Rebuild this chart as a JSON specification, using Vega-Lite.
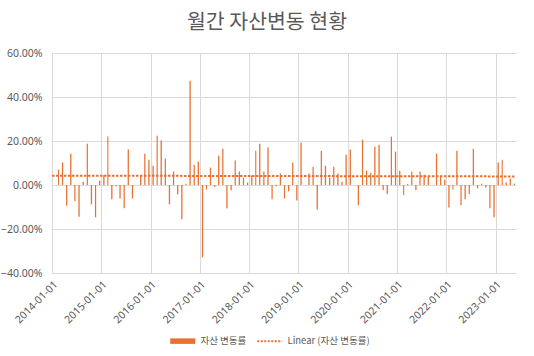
{
  "$schema": "https://vega.github.io/schema/vega-lite/v6.json",
  "autosize": {"type": "none"},
  "width": 464,
  "height": 220,
  "padding": {"left": 52, "top": 53, "right": 18, "bottom": 83},
  "background": "white",
  "title": {"text": "월간 자산변동 현황", "fontSize": 20.5, "font": "Noto Sans CJK KR", "fontWeight": "normal", "color": "#595959", "anchor": "middle", "frame": "group", "dx": -17, "offset": 15},
  "config": {
    "view": {"stroke": null},
    "axis": {"gridColor": "#d9d9d9", "domain": false, "ticks": false, "labelColor": "#595959", "labelFontSize": 10.5, "labelFont": "Noto Sans"}
  },
  "data": {
    "format": {"parse": {"date": "date"}},
    "values": [
      {"date": "2014-02-01", "rate": 0.070},
      {"date": "2014-03-01", "rate": 0.102},
      {"date": "2014-04-01", "rate": -0.094},
      {"date": "2014-05-01", "rate": 0.142},
      {"date": "2014-06-01", "rate": -0.074},
      {"date": "2014-07-01", "rate": -0.144},
      {"date": "2014-08-01", "rate": 0.015},
      {"date": "2014-09-01", "rate": 0.188},
      {"date": "2014-10-01", "rate": -0.088},
      {"date": "2014-11-01", "rate": -0.147},
      {"date": "2014-12-01", "rate": 0.020},
      {"date": "2015-01-01", "rate": 0.045},
      {"date": "2015-02-01", "rate": 0.220},
      {"date": "2015-03-01", "rate": -0.065},
      {"date": "2015-04-01", "rate": -0.006},
      {"date": "2015-05-01", "rate": -0.061},
      {"date": "2015-06-01", "rate": -0.106},
      {"date": "2015-07-01", "rate": 0.161},
      {"date": "2015-08-01", "rate": -0.061},
      {"date": "2015-10-01", "rate": 0.045},
      {"date": "2015-11-01", "rate": 0.142},
      {"date": "2015-12-01", "rate": 0.115},
      {"date": "2016-01-01", "rate": 0.088},
      {"date": "2016-02-01", "rate": 0.224},
      {"date": "2016-03-01", "rate": 0.202},
      {"date": "2016-04-01", "rate": 0.120},
      {"date": "2016-05-01", "rate": -0.088},
      {"date": "2016-06-01", "rate": 0.061},
      {"date": "2016-07-01", "rate": -0.042},
      {"date": "2016-08-01", "rate": -0.156},
      {"date": "2016-09-01", "rate": 0.006},
      {"date": "2016-10-01", "rate": 0.474},
      {"date": "2016-11-01", "rate": 0.092},
      {"date": "2016-12-01", "rate": 0.106},
      {"date": "2017-01-01", "rate": -0.329},
      {"date": "2017-02-01", "rate": -0.020},
      {"date": "2017-03-01", "rate": 0.079},
      {"date": "2017-04-01", "rate": -0.008},
      {"date": "2017-05-01", "rate": 0.133},
      {"date": "2017-06-01", "rate": 0.165},
      {"date": "2017-07-01", "rate": -0.106},
      {"date": "2017-08-01", "rate": -0.024},
      {"date": "2017-09-01", "rate": 0.111},
      {"date": "2017-10-01", "rate": 0.061},
      {"date": "2017-11-01", "rate": 0.033},
      {"date": "2017-12-01", "rate": 0.011},
      {"date": "2018-01-01", "rate": 0.042},
      {"date": "2018-02-01", "rate": 0.156},
      {"date": "2018-03-01", "rate": 0.188},
      {"date": "2018-04-01", "rate": 0.061},
      {"date": "2018-05-01", "rate": 0.170},
      {"date": "2018-06-01", "rate": -0.065},
      {"date": "2018-07-01", "rate": -0.006},
      {"date": "2018-08-01", "rate": 0.052},
      {"date": "2018-09-01", "rate": -0.061},
      {"date": "2018-10-01", "rate": -0.029},
      {"date": "2018-11-01", "rate": 0.102},
      {"date": "2018-12-01", "rate": -0.070},
      {"date": "2019-01-01", "rate": 0.192},
      {"date": "2019-03-01", "rate": 0.052},
      {"date": "2019-04-01", "rate": 0.083},
      {"date": "2019-05-01", "rate": -0.111},
      {"date": "2019-06-01", "rate": 0.156},
      {"date": "2019-07-01", "rate": 0.088},
      {"date": "2019-08-01", "rate": 0.033},
      {"date": "2019-09-01", "rate": 0.083},
      {"date": "2019-10-01", "rate": 0.052},
      {"date": "2019-11-01", "rate": 0.015},
      {"date": "2019-12-01", "rate": 0.138},
      {"date": "2020-01-01", "rate": 0.161},
      {"date": "2020-03-01", "rate": -0.092},
      {"date": "2020-04-01", "rate": 0.206},
      {"date": "2020-05-01", "rate": 0.065},
      {"date": "2020-06-01", "rate": 0.056},
      {"date": "2020-07-01", "rate": 0.174},
      {"date": "2020-08-01", "rate": 0.183},
      {"date": "2020-09-01", "rate": -0.024},
      {"date": "2020-10-01", "rate": -0.042},
      {"date": "2020-11-01", "rate": 0.220},
      {"date": "2020-12-01", "rate": 0.152},
      {"date": "2021-01-01", "rate": 0.065},
      {"date": "2021-02-01", "rate": -0.047},
      {"date": "2021-03-01", "rate": 0.005},
      {"date": "2021-04-01", "rate": 0.061},
      {"date": "2021-05-01", "rate": -0.024},
      {"date": "2021-06-01", "rate": 0.061},
      {"date": "2021-07-01", "rate": 0.047},
      {"date": "2021-08-01", "rate": 0.040},
      {"date": "2021-10-01", "rate": 0.142},
      {"date": "2021-11-01", "rate": 0.042},
      {"date": "2021-12-01", "rate": 0.024},
      {"date": "2022-01-01", "rate": -0.102},
      {"date": "2022-02-01", "rate": -0.020},
      {"date": "2022-03-01", "rate": 0.156},
      {"date": "2022-04-01", "rate": -0.092},
      {"date": "2022-05-01", "rate": -0.065},
      {"date": "2022-06-01", "rate": -0.042},
      {"date": "2022-07-01", "rate": 0.165},
      {"date": "2022-08-01", "rate": -0.015},
      {"date": "2022-09-01", "rate": 0.006},
      {"date": "2022-10-01", "rate": -0.011},
      {"date": "2022-11-01", "rate": -0.106},
      {"date": "2022-12-01", "rate": -0.147},
      {"date": "2023-01-01", "rate": 0.102},
      {"date": "2023-02-01", "rate": 0.115},
      {"date": "2023-03-01", "rate": 0.011},
      {"date": "2023-04-01", "rate": 0.029},
      {"date": "2023-05-01", "rate": 0.006}
    ]
  },
  "layer": [
    {
      "mark": {"type": "bar", "width": {"band": 0.55}},
      "encoding": {
        "x": {
          "field": "date", "timeUnit": "utcyearmonth", "type": "temporal", "title": null,
          "scale": {"type": "utc", "nice": false, "domain": [{"year": 2014, "month": 1, "date": 1, "utc": true}, {"year": 2023, "month": 6, "date": 1, "utc": true}]},
          "axis": {
            "values": [
              {"year": 2014, "month": 1, "date": 1, "utc": true},
              {"year": 2015, "month": 1, "date": 1, "utc": true},
              {"year": 2016, "month": 1, "date": 1, "utc": true},
              {"year": 2017, "month": 1, "date": 1, "utc": true},
              {"year": 2018, "month": 1, "date": 1, "utc": true},
              {"year": 2019, "month": 1, "date": 1, "utc": true},
              {"year": 2020, "month": 1, "date": 1, "utc": true},
              {"year": 2021, "month": 1, "date": 1, "utc": true},
              {"year": 2022, "month": 1, "date": 1, "utc": true},
              {"year": 2023, "month": 1, "date": 1, "utc": true}
            ],
            "format": "%Y-%m-%d", "labelAngle": -45, "labelPadding": 6, "labelOverlap": false, "grid": true
          }
        },
        "y": {
          "field": "rate", "type": "quantitative", "title": null,
          "scale": {"domain": [-0.4, 0.6], "nice": false},
          "axis": {"values": [-0.4, -0.3, -0.2, -0.1, 0, 0.1, 0.2, 0.3, 0.4, 0.5, 0.6], "format": ".2%", "labelPadding": 10}
        },
        "color": {
          "datum": "자산 변동률",
          "scale": {"domain": ["자산 변동률", "Linear (자산 변동률)"], "range": ["#E97132", "#E97132"]},
          "legend": {
            "orient": "none", "legendX": 126, "legendY": 283, "direction": "horizontal", "title": null,
            "labelFontSize": 9.5, "labelColor": "#595959", "labelFont": "Noto Sans CJK KR",
            "symbolSize": 625, "columnPadding": 6, "labelOffset": 13,
            "encode": {
              "symbols": {
                "update": {
                  "shape": {"signal": "datum.value === '자산 변동률' ? 'M-1,-0.22H1V0.22H-1Z' : 'stroke'"},
                  "fill": {"value": "#E97132"},
                  "stroke": {"value": "#E97132"},
                  "strokeWidth": {"signal": "datum.value === '자산 변동률' ? 0 : 2"},
                  "strokeDash": {"signal": "datum.value === '자산 변동률' ? [1, 0] : [2, 1.5]"},
                  "opacity": {"value": 1}
                }
              }
            }
          }
        }
      }
    },
    {
      "transform": [
        {"regression": "rate", "on": "date", "extent": [1388534400000, 1685577600000]}
      ],
      "mark": {"type": "line", "strokeWidth": 2, "strokeDash": [2.5, 1.5]},
      "encoding": {
        "x": {"field": "date", "type": "temporal"},
        "y": {"field": "rate", "type": "quantitative"},
        "color": {"datum": "Linear (자산 변동률)"}
      }
    }
  ]
}
